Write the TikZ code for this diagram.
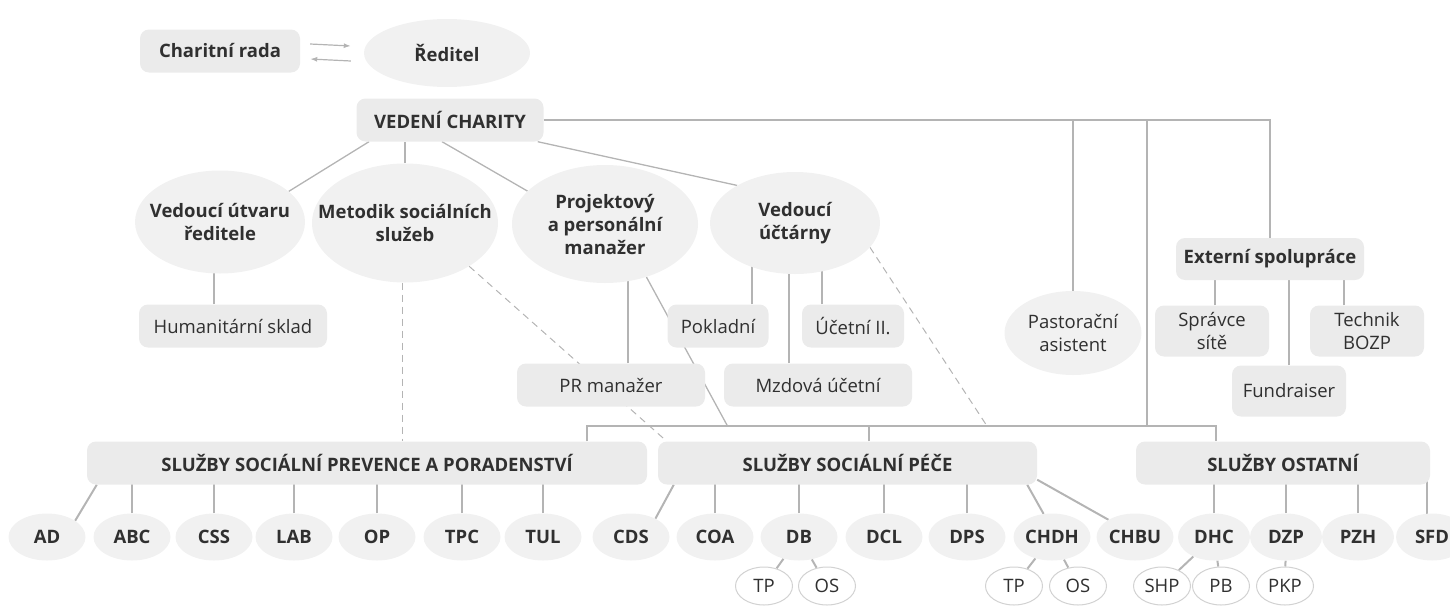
\documentclass[tikz,border=0pt]{standalone}
\usepackage{fontspec}
\setmainfont{Open Sans}
\usetikzlibrary{shapes.geometric,arrows.meta,backgrounds}
\definecolor{boxgray}{HTML}{EBEBEB}
\definecolor{ovalgray}{HTML}{F1F1F1}
\definecolor{linegray}{HTML}{B4B4B4}
\definecolor{subline}{HTML}{D2D2D2}
\definecolor{txt}{HTML}{303030}
\tikzset{
  box/.style={fill=boxgray, rounded corners=9pt, minimum height=43pt, inner sep=0pt, text=txt, align=center,
    font=\fontsize{18.5}{23}\selectfont},
  bbox/.style={box, font=\bfseries\fontsize{18.5}{23}\selectfont},
  oval/.style={ellipse, fill=ovalgray, inner sep=0pt, text=txt, font=\bfseries\fontsize{18.5}{23}\selectfont},
  olab/.style={align=center, text=txt, inner sep=0pt, font=\bfseries\fontsize{18.5}{23}\selectfont},
  leaf/.style={oval, minimum width=77pt, minimum height=47pt},
  sub/.style={ellipse, draw=subline, fill=white, line width=1pt, minimum width=57pt, minimum height=38pt, inner sep=0pt,
    text=txt, font=\fontsize{18.5}{23}\selectfont},
  link/.style={draw=linegray, line width=2pt},
  thinlink/.style={draw=linegray, line width=1.3pt},
  dashlink/.style={draw=linegray, line width=1pt, dash pattern=on 7pt off 5pt},
  arr/.style={draw=linegray, line width=1.2pt, -{Latex[length=7pt,width=5pt]}}
}
\begin{document}
\begin{tikzpicture}[x=1pt,y=-1pt]
\useasboundingbox (0,0) rectangle (1450,605);
% top
\node[bbox, minimum width=160pt] (rada) at (220,51) {Charitní rada};
\node[oval, minimum width=166pt, minimum height=68pt] (red) at (447,53) {Ředitel};
\node[bbox, minimum width=187pt] (ved) at (450,120) {VEDENÍ CHARITY};
% second row
\node[oval, minimum width=170pt, minimum height=103pt, label={[olab]center:Vedoucí útvaru\\ředitele}] (vut) at (220,222) {};
\node[oval, minimum width=186pt, minimum height=119pt, label={[olab]center:Metodik sociálních\\služeb}] (met) at (405,223) {};
\node[oval, minimum width=186pt, minimum height=118pt, label={[olab]center:Projektový\\a personální\\manažer}] (proj) at (605,224) {};
\node[oval, minimum width=170pt, minimum height=102pt, label={[olab]center:Vedoucí\\účtárny}] (ucto) at (795,223) {};
\node[oval, minimum width=137pt, minimum height=84pt, label={[olab, font=\fontsize{18.5}{23}\selectfont]center:Pastorační\\asistent}] (past) at (1073,333) {};
% staff
\node[box, minimum width=188pt] (hum) at (233,326) {Humanitární sklad};
\node[box, minimum width=101pt] (pok) at (718,326) {Pokladní};
\node[box, minimum width=102pt] (uc2) at (853,326) {Účetní II.};
\node[box, minimum width=188pt] (pr) at (611,385) {PR manažer};
\node[box, minimum width=188pt] (mzd) at (818,385) {Mzdová účetní};
\node[bbox, minimum width=188pt, minimum height=42pt] (ext) at (1270,259) {Externí spolupráce};
\node[box, minimum width=114pt, minimum height=51pt] (spr) at (1212,331) {Správce\\sítě};
\node[box, minimum width=114pt, minimum height=51pt] (tech) at (1367,331) {Technik\\BOZP};
\node[box, minimum width=114pt, minimum height=51pt] (fund) at (1289,391) {Fundraiser};
% services
\node[bbox, minimum width=560pt] (sspp) at (367,463) {SLUŽBY SOCIÁLNÍ PREVENCE A PORADENSTVÍ};
\node[bbox, minimum width=379pt] (ssp) at (847.5,463) {SLUŽBY SOCIÁLNÍ PÉČE};
\node[bbox, minimum width=294pt] (sost) at (1283,463) {SLUŽBY OSTATNÍ};
\foreach \n/\x/\t in {ad/47/AD, abc/132/ABC, css/214/CSS, lab/294/LAB, op/377/OP, tpc/462/TPC, tul/543/TUL,
    cds/631/CDS, coa/715/COA, db/799/DB, dcl/884/DCL, dps/967/DPS, chdh/1052/CHDH, chbu/1135/CHBU}
  \node[leaf] (\n) at (\x,537) {\t};
\foreach \n/\x/\t in {dhc/1214/DHC, dzp/1286/DZP, pzh/1358/PZH, sfd/1432/SFD}
  \node[leaf, minimum width=72pt] (\n) at (\x,537) {\t};
\foreach \n/\x/\t in {dbtp/764/TP, dbos/827/OS, chtp/1014/TP, chos/1078/OS, shp/1162/SHP, pb/1221/PB, pkp/1285/PKP}
  \node[sub] (\n) at (\x,586) {\t};
\coordinate (bus) at (1147,426);
% connectors
\draw[arr] ([xshift=10pt,yshift=7pt]rada.east) -- ([xshift=-13pt,yshift=7pt]red.west);
\draw[arr] ([xshift=-13pt,yshift=-8pt]red.west) -- ([xshift=10pt,yshift=-8pt]rada.east);
\begin{scope}[on background layer]
\draw[thinlink] ([xshift=-81pt]ved.south) -- (vut.24);
\draw[thinlink] (met.north) -- (met.north |- ved.south);
\draw[thinlink] ([xshift=-8pt]ved.south) -- (proj.157);
\draw[thinlink] ([xshift=-6pt]ved.south east) -- (ucto.147);
\draw[link] (ved.east) -| (ext.north);
\draw[link] (past.center) -- (past.center |- ved.east);
\draw[link] (bus) -- (bus |- ved.east);
\draw[link] ([xshift=220pt]sspp.north) |- (bus) -| ([xshift=-67pt]sost.north);
\draw[link] ([xshift=21pt]ssp.north) -- ([xshift=21pt]ssp.north |- bus);
\draw[thinlink] (proj.-52) -- ([xshift=-120pt]ssp.north |- bus);
\draw[dashlink] ([xshift=-3pt]met.south) -- ([xshift=-3pt]met.south |- sspp.north);
\draw[dashlink] (met.-34) -- ([xshift=9pt]ssp.north west);
\draw[dashlink] (ucto.-18) -- ([xshift=-160pt]bus);
\draw[link] ([xshift=-19pt]hum.north) -- ([xshift=-19pt]hum.north |- vut.center);
\draw[link] ([xshift=17pt]pr.north) -- ([xshift=17pt]pr.north |- proj.center);
\draw[link] ([xshift=34pt]pok.north) -- ([xshift=34pt]pok.north |- ucto.center);
\draw[link] ([xshift=-31pt]uc2.north) -- ([xshift=-31pt]uc2.north |- ucto.center);
\draw[link] ([xshift=-29pt]mzd.north) -- ([xshift=-29pt]mzd.north |- ucto.center);
\draw[link] ([xshift=3pt]spr.north) -- ([xshift=3pt]spr.north |- ext.center);
\draw[link] (fund.north) -- (fund.north |- ext.center);
\draw[link] ([xshift=-23pt]tech.north) -- ([xshift=-23pt]tech.north |- ext.center);
\draw[link] ([xshift=10pt]sspp.south west) -- (ad.30);
\foreach \c in {abc,css,lab,op,tpc,tul} \draw[link] (\c) -- (\c |- sspp.center);
\draw[link] ([xshift=16pt]ssp.south west) -- (cds.37);
\foreach \c in {coa,db,dcl,dps} \draw[link] (\c) -- (\c |- ssp.center);
\draw[link] ([xshift=-10pt]ssp.south east) -- (chdh.110);
\draw[link] ([yshift=5pt]ssp.south east) -- (chbu.147);
\foreach \c in {dhc,dzp,pzh} \draw[link] (\c) -- (\c |- sost.center);
\draw[link] ([xshift=-5pt]sfd.center) -- ([xshift=-5pt]sfd.center |- sost.center);
\draw[link] (db) -- (dbtp);
\draw[link] (db) -- (dbos);
\draw[link] (chdh) -- (chtp);
\draw[link] (chdh) -- (chos);
\draw[link] (dhc) -- (shp);
\draw[link] (dhc) -- (pb);
\draw[link] (dzp) -- (pkp);
\end{scope}
\end{tikzpicture}
\end{document}
